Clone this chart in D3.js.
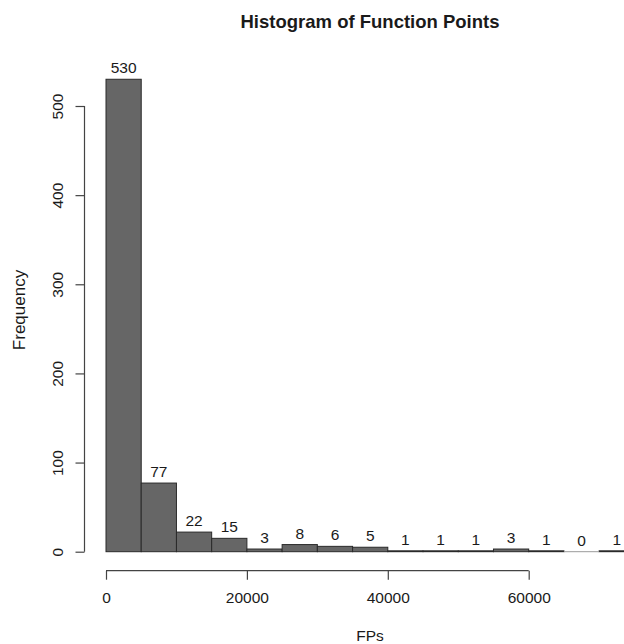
<!DOCTYPE html>
<html>
<head>
<meta charset="utf-8">
<script src="https://cdn.jsdelivr.net/npm/d3@7"></script>
<style>
  html, body { margin: 0; padding: 0; background: #fff; }
  svg { display: block; }
  text { font-family: "Liberation Sans", Arial, sans-serif; fill: #1a1a1a; }
</style>
</head>
<body>
<script>
// Histogram bins of function points (width 5000)
const binStarts = [0, 5000, 10000, 15000, 20000, 25000, 30000, 35000, 40000, 45000, 50000, 55000, 60000, 65000, 70000];
const binWidth = 5000;
const counts = [530, 77, 22, 15, 3, 8, 6, 5, 1, 1, 1, 3, 1, 0, 1];
const xTicks = [0, 20000, 40000, 60000];
const yTicks = [0, 100, 200, 300, 400, 500];
const title = "Histogram of Function Points";
const xLabel = "FPs";
const yLabel = "Frequency";

const W = 624, H = 644;
const svg = d3.select("body").append("svg").attr("width", W).attr("height", H);

const x = d3.scaleLinear().domain([0, 60000]).range([106, 528.7]);
const y = d3.scaleLinear().domain([0, 500]).range([551.7, 106]);

const bins = binStarts.map((s, i) => ({ s, c: counts[i] }));

// bars
svg.append("g").selectAll("rect")
  .data(bins.filter(d => d.c > 0))
  .join("rect")
  .attr("x", d => x(d.s))
  .attr("width", d => x(d.s + binWidth) - x(d.s))
  .attr("y", d => y(d.c))
  .attr("height", d => y(0) - y(d.c))
  .attr("fill", "#666666")
  .attr("stroke", "#2a2a2a")
  .attr("stroke-width", 1);

// empty bins collapse to a flat outline on the baseline
svg.append("g").selectAll("line")
  .data(bins.filter(d => d.c === 0))
  .join("line")
  .attr("x1", d => x(d.s))
  .attr("x2", d => x(d.s + binWidth))
  .attr("y1", y(0))
  .attr("y2", y(0))
  .attr("stroke", "#9a9a9a")
  .attr("stroke-width", 1);

// count labels above bars
svg.append("g").selectAll("text")
  .data(bins)
  .join("text")
  .attr("x", d => x(d.s + binWidth / 2))
  .attr("y", d => y(d.c) - 6)
  .attr("text-anchor", "middle")
  .attr("font-size", 15.5)
  .text(d => d.c);

// x axis (offset below the bars)
const xAxis = d3.axisBottom(x).tickValues(xTicks).tickSize(9).tickPadding(12)
  .tickFormat(d3.format("d"));
const gx = svg.append("g").attr("transform", "translate(0,570.7)").call(xAxis);
gx.select(".domain").attr("d", `M${x(0)},0H${x(60000)}`);

// y axis (offset left of the bars)
const yAxis = d3.axisLeft(y).tickValues(yTicks).tickSize(9).tickPadding(0)
  .tickFormat(d3.format("d"));
const gy = svg.append("g").attr("transform", "translate(84.5,0)").call(yAxis);
gy.select(".domain").attr("d", `M0,${y(0)}V${y(500)}`);

[gx, gy].forEach(g => {
  g.selectAll(".domain, .tick line").attr("stroke", "#444").attr("stroke-width", 1.2);
  g.selectAll(".tick text").attr("font-size", 15.5).attr("fill", "#1a1a1a")
    .style("font-family", '"Liberation Sans", Arial, sans-serif');
});

// rotated y tick labels, centred on each tick
gy.selectAll(".tick text")
  .attr("text-anchor", "middle")
  .attr("x", null)
  .attr("transform", "translate(-26.5,0) rotate(-90)")
  .attr("dy", "0.35em");

// title and axis titles
svg.append("text")
  .attr("x", 370).attr("y", 28)
  .attr("text-anchor", "middle")
  .attr("font-size", 18.5).attr("font-weight", "bold")
  .text(title);

svg.append("text")
  .attr("x", 370).attr("y", 641)
  .attr("text-anchor", "middle")
  .attr("font-size", 15.5)
  .text(xLabel);

svg.append("text")
  .attr("transform", "translate(25,310) rotate(-90)")
  .attr("text-anchor", "middle")
  .attr("font-size", 17)
  .text(yLabel);
</script>
</body>
</html>
